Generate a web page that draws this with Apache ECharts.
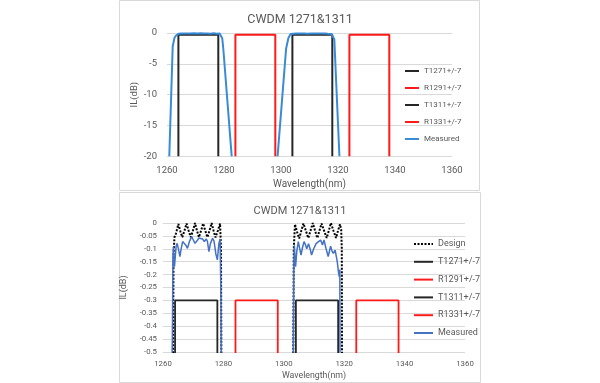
<!DOCTYPE html>
<html><head><meta charset="utf-8">
<script src="https://cdn.jsdelivr.net/npm/echarts@6/dist/echarts.min.js"></script>
<style>html,body{margin:0;padding:0;background:#fff;}#c{width:600px;height:383px;}</style>
</head><body><div id="c"></div>
<script>
// ---- data ----
const chartTitle = 'CWDM 1271&1311';
const xTicks = [1260, 1280, 1300, 1320, 1340, 1360];
const ilTicksTop = [0, -5, -10, -15, -20];
const ilTicksBottom = [0, -0.05, -0.1, -0.15, -0.2, -0.25, -0.3, -0.35, -0.4, -0.45, -0.5];

const filterNames = ['T1271+/-7', 'R1291+/-7', 'T1311+/-7', 'R1331+/-7'];
const t1271Wl = [1264, 1264, 1278, 1278];
const r1291Wl = [1284, 1284, 1298, 1298];
const t1311Wl = [1304, 1304, 1318, 1318];
const r1331Wl = [1324, 1324, 1338, 1338];
const filterIL = [-20, -0.3, -0.3, -20];

const measWl = [
  1260.8, 1262.0, 1262.6, 1263.1, 1263.3, 1263.45, 1263.6, 1263.8, 1264.0, 1264.35,
  1264.7, 1265.1, 1265.6, 1266.0, 1266.5, 1266.95, 1267.5, 1268.1, 1268.8, 1269.5,
  1270.0, 1270.6, 1271.2, 1271.9, 1272.5, 1273.1, 1273.7, 1274.3, 1274.7, 1275.2,
  1275.7, 1276.4, 1276.9, 1277.5, 1278.0, 1278.5, 1278.9, 1279.2, 1279.4, 1279.8, 1282.7,
  1290,
  1298.8, 1301.8, 1302.6, 1303.15, 1303.35, 1303.5, 1303.7, 1303.9, 1304.3, 1304.8,
  1305.2, 1305.7, 1306.2, 1306.7, 1307.2, 1307.6, 1308.2, 1308.7, 1309.2, 1309.9,
  1310.7, 1311.5, 1312.2, 1312.8, 1313.3, 1314.0, 1314.7, 1315.5, 1316.0, 1316.4,
  1317.0, 1317.7, 1318.1, 1318.4, 1318.55, 1318.7, 1320.5
];
const measIL = [
  -20, -2.2, -0.8, -0.45, -0.13, -0.092, -0.14, -0.169, -0.14, -0.09,
  -0.079, -0.1, -0.13, -0.1, -0.072, -0.066, -0.085, -0.098, -0.07, -0.053,
  -0.065, -0.079, -0.07, -0.058, -0.053, -0.062, -0.072, -0.062, -0.07, -0.111,
  -0.08, -0.059, -0.07, -0.12, -0.143, -0.08, -0.062, -0.3, -0.9, -2.8, -20,
  null,
  -20, -2.5, -0.8, -0.5, -0.15, -0.086, -0.13, -0.169, -0.11, -0.072,
  -0.095, -0.124, -0.095, -0.072, -0.085, -0.1, -0.08, -0.1, -0.124, -0.1,
  -0.08, -0.072, -0.066, -0.085, -0.066, -0.1, -0.13, -0.09, -0.11, -0.118,
  -0.105, -0.15, -0.19, -0.21, -0.18, -1.0, -20
];

const designWl = [
  1263.3, 1263.5, 1263.8, 1264.3, 1265.1, 1265.75, 1266.4, 1267.1, 1267.8, 1268.5,
  1269.2, 1269.9, 1270.6, 1271.25, 1271.9, 1272.6, 1273.3, 1274.0, 1274.7, 1275.4,
  1276.1, 1276.75, 1277.4, 1278.15, 1278.9, 1279.2, 1279.35,
  1290,
  1303.1, 1303.3, 1303.7, 1304.4, 1305.1, 1305.8, 1306.5, 1307.3, 1308.1, 1308.85,
  1309.6, 1310.35, 1311.1, 1311.8, 1312.5, 1313.35, 1314.2, 1314.9, 1315.6, 1316.45,
  1317.3, 1317.95, 1318.6, 1319.0, 1319.2, 1319.3
];
const designIL = [
  -0.6, -0.12, -0.055, -0.04, -0.004, -0.032, -0.055, -0.03, -0.002, -0.03,
  -0.055, -0.03, 0, -0.03, -0.055, -0.03, -0.002, -0.03, -0.055, -0.03,
  0, -0.03, -0.056, -0.03, -0.002, -0.1, -0.6,
  null,
  -0.6, -0.1, -0.005, -0.035, -0.06, -0.03, -0.002, -0.03, -0.058, -0.03,
  0, -0.03, -0.058, -0.03, -0.002, -0.03, -0.058, -0.03, 0, -0.03,
  -0.058, -0.03, -0.005, -0.025, -0.1, -0.6
];

// ---- helpers ----
function pairs(xs, ys) { return xs.map((x, i) => [x, ys[i] === null ? '-' : ys[i]]); }
const FONT = 'Roboto';
const TXT = '#595959';
const GRID = '#d9d9d9';
const BLACK = '#262626';
const RED = '#FF1A1A';
const BLUE_TOP = '#3A8BD6';
const BLUE_BOT = '#4472C4';
const filterWls = [t1271Wl, r1291Wl, t1311Wl, r1331Wl];
const filterColors = [BLACK, RED, BLACK, RED];

function xAxisFor(gi, fs, margin, nameFs, nameGap) {
  return {
    gridIndex: gi, type: 'value',
    min: xTicks[0], max: xTicks[xTicks.length - 1], interval: xTicks[1] - xTicks[0],
    axisLine: { show: false }, axisTick: { show: false }, splitLine: { show: false },
    axisLabel: { margin: margin, fontSize: fs, color: TXT, fontFamily: FONT,
      formatter: v => String(v) },
    name: 'Wavelength(nm)', nameLocation: 'middle', nameGap: nameGap,
    nameTextStyle: { fontSize: nameFs, color: TXT, fontFamily: FONT }
  };
}
function yAxisFor(gi, ticks, fs, margin, nameFs, nameGap) {
  return {
    gridIndex: gi, type: 'value',
    min: ticks[ticks.length - 1], max: ticks[0], interval: Math.abs(ticks[1] - ticks[0]),
    axisLine: { show: false }, axisTick: { show: false },
    splitLine: { show: true, lineStyle: { color: GRID, width: 1 } },
    axisLabel: { margin: margin, fontSize: fs, color: TXT, fontFamily: FONT },
    name: 'IL(dB)', nameLocation: 'middle', nameGap: nameGap, nameRotate: 90,
    nameTextStyle: { fontSize: nameFs, color: TXT, fontFamily: FONT }
  };
}

const series = [];
// top chart
filterNames.forEach((n, i) => {
  series.push({
    name: n, type: 'line', xAxisIndex: 0, yAxisIndex: 0, symbol: 'none',
    data: pairs(filterWls[i], filterIL),
    lineStyle: { color: filterColors[i], width: 2 }, itemStyle: { color: filterColors[i] },
    silent: true, animation: false
  });
});
series.push({
  name: 'Measured', type: 'line', xAxisIndex: 0, yAxisIndex: 0, symbol: 'none',
  data: pairs(measWl, measIL), connectNulls: false,
  lineStyle: { color: BLUE_TOP, width: 2 }, itemStyle: { color: BLUE_TOP },
  silent: true, animation: false
});
// bottom chart
series.push({
  name: 'Design', type: 'line', xAxisIndex: 1, yAxisIndex: 1, symbol: 'none',
  data: pairs(designWl, designIL), connectNulls: false,
  lineStyle: { color: '#000000', width: 2, type: [2, 1.5] }, itemStyle: { color: '#000000' },
  silent: true, animation: false
});
filterNames.forEach((n, i) => {
  series.push({
    name: n, type: 'line', xAxisIndex: 1, yAxisIndex: 1, symbol: 'none',
    data: pairs(filterWls[i], filterIL),
    lineStyle: { color: filterColors[i], width: 1.8 }, itemStyle: { color: filterColors[i] },
    silent: true, animation: false
  });
});
series.push({
  name: 'Measured', type: 'line', xAxisIndex: 1, yAxisIndex: 1, symbol: 'none',
  data: pairs(measWl, measIL), connectNulls: false,
  lineStyle: { color: BLUE_BOT, width: 1.5 }, itemStyle: { color: BLUE_BOT },
  silent: true, animation: false
});

const chart = echarts.init(document.getElementById('c'), null, { renderer: 'canvas' });
chart.setOption({
  animation: false,
  backgroundColor: '#ffffff',
  title: [
    { text: chartTitle, left: 'center', top: 8,
      textStyle: { fontSize: 12.5, fontWeight: 'normal', color: TXT, fontFamily: FONT } },
    { text: chartTitle, left: 'center', top: 200.5,
      textStyle: { fontSize: 11, fontWeight: 'normal', color: TXT, fontFamily: FONT } }
  ],
  legend: [
    { orient: 'vertical', left: 399, top: 61, itemWidth: 14, itemHeight: 10, itemGap: 7,
      selectedMode: false, itemStyle: { opacity: 0 },
      textStyle: { fontSize: 8, color: TXT, fontFamily: FONT, lineHeight: 10 },
      data: filterNames.concat(['Measured']) },
    { orient: 'vertical', left: 408, top: 234, itemWidth: 19, itemHeight: 10, itemGap: 7.8,
      selectedMode: false, itemStyle: { opacity: 0 },
      textStyle: { fontSize: 9, color: TXT, fontFamily: FONT, lineHeight: 10 },
      data: ['Design'].concat(filterNames).concat([
        { name: 'Measured', lineStyle: { color: BLUE_BOT }, itemStyle: { color: BLUE_BOT, opacity: 0 } }
      ]) }
  ],
  grid: [
    { left: 167, top: 33, width: 285, height: 123.3, containLabel: false },
    { left: 163, top: 223, width: 302, height: 129, containLabel: false }
  ],
  xAxis: [ xAxisFor(0, 9.5, 9.5, 10, 23), xAxisFor(1, 7.8, 8.3, 8.8, 19) ],
  yAxis: [ yAxisFor(0, ilTicksTop, 9.5, 10, 9.5, 26), yAxisFor(1, ilTicksBottom, 7.8, 6, 9, 27.5) ],
  graphic: [
    { type: 'rect', silent: true, shape: { x: 119.5, y: 0.5, width: 360, height: 190 },
      style: { fill: 'none', stroke: GRID, lineWidth: 1 } },
    { type: 'rect', silent: true, shape: { x: 119.5, y: 192.5, width: 361, height: 190 },
      style: { fill: 'none', stroke: GRID, lineWidth: 1 } }
  ],
  series: series
});
</script>
</body></html>
